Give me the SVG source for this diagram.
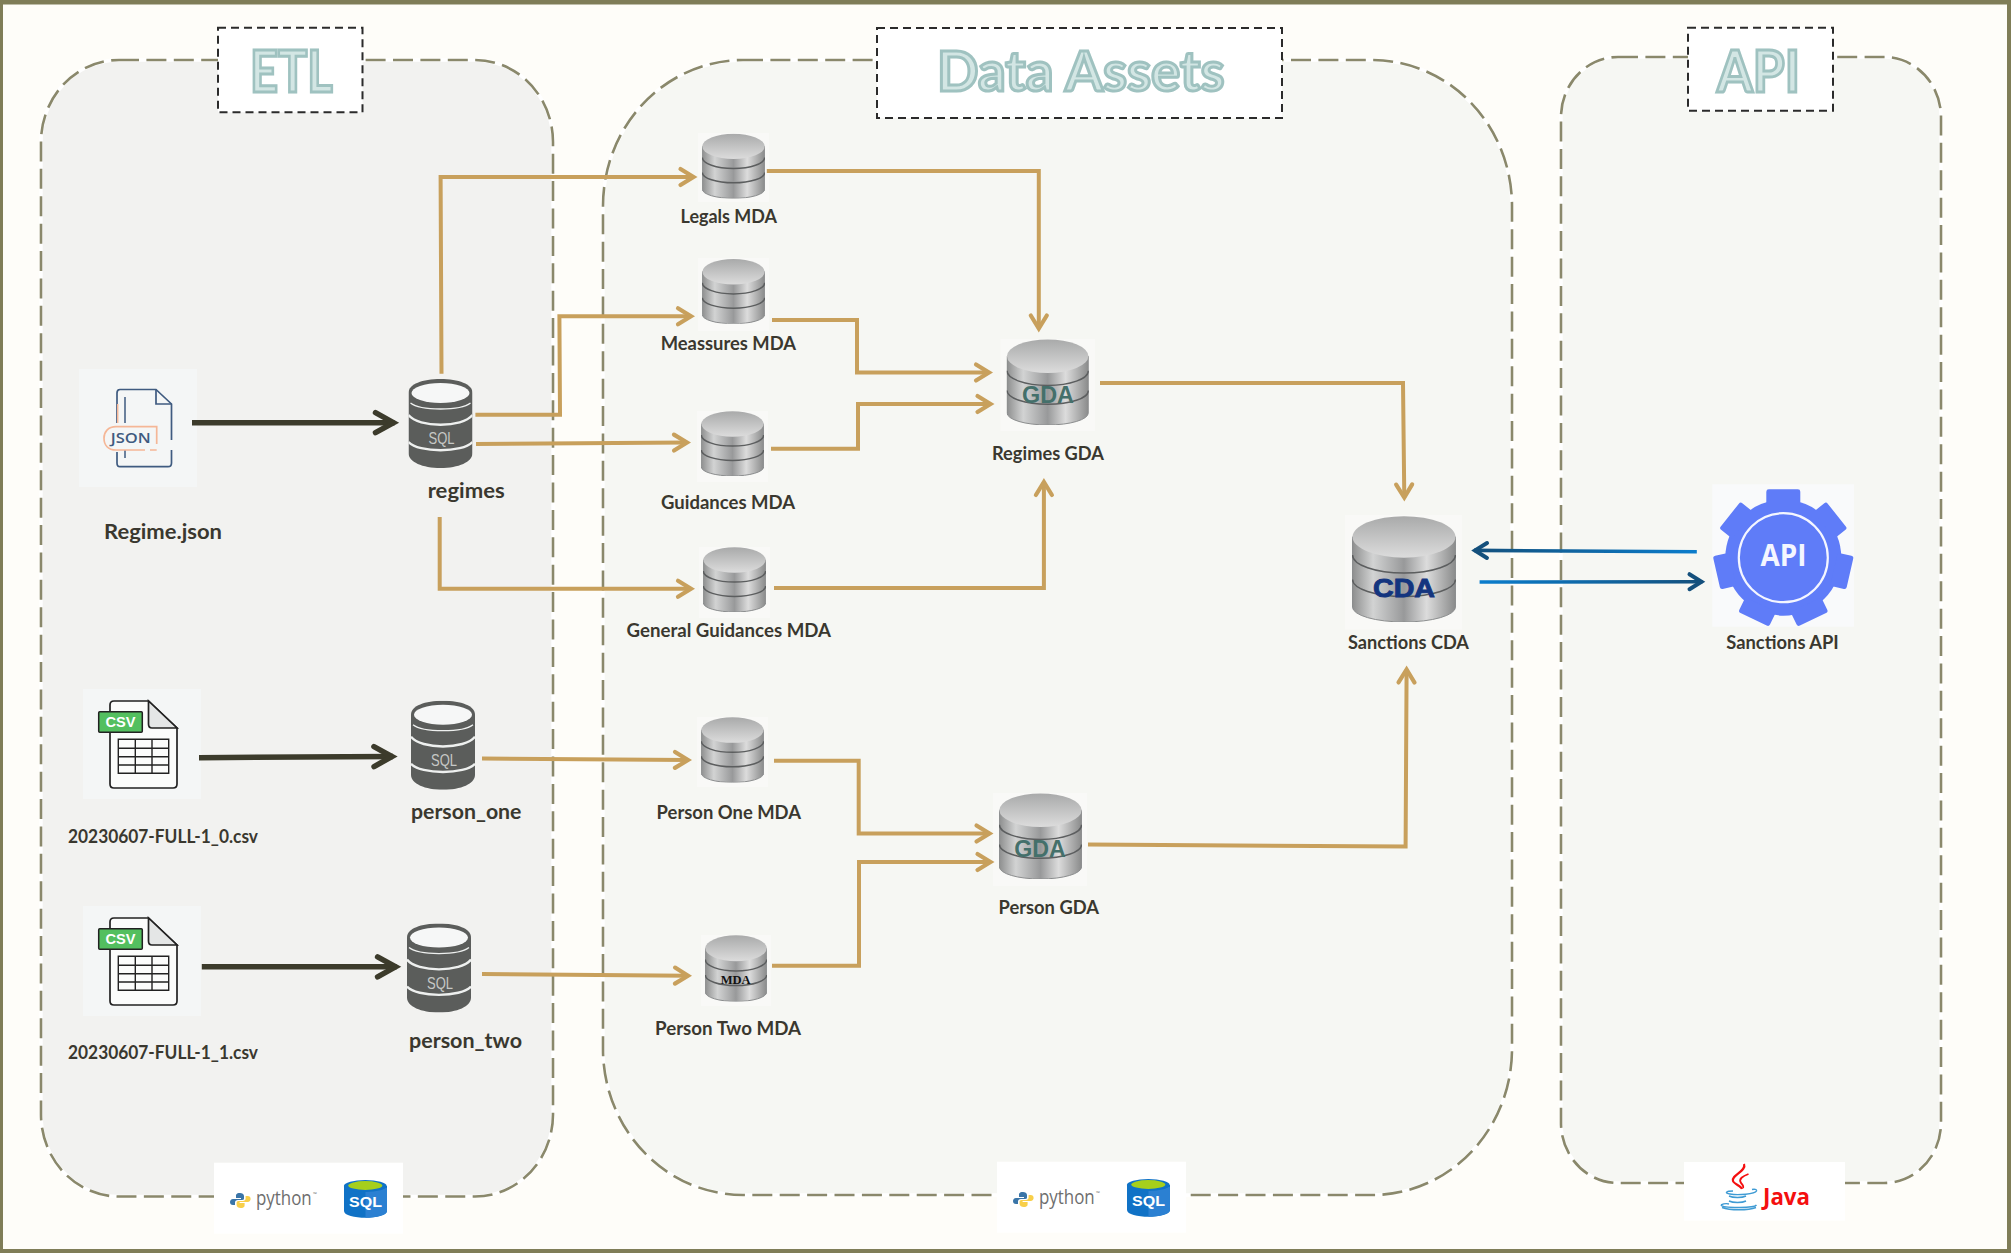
<svg xmlns="http://www.w3.org/2000/svg" xmlns:xlink="http://www.w3.org/1999/xlink" width="2011" height="1253" viewBox="0 0 2011 1253">
<style>
.halo{fill:none;stroke:#ffffff;stroke-width:3.4}
.edge{fill:none;stroke:#8a886b;stroke-width:2.6;stroke-dasharray:20 7.4}
.tbox{fill:#ffffff;stroke:#2b2b2b;stroke-width:2;stroke-dasharray:8 5}
.title{font-family:"Lato","Liberation Sans",sans-serif;font-weight:700;fill:#d3e6e4;stroke:#9fc2c0;stroke-width:3}
.lbl{font-family:"Lato","Liberation Sans",sans-serif;font-weight:700;fill:#3a382f}
.icobg{fill:#f4f6f6}
.cylbg{fill:#f9f9f7}
.tan{fill:none;stroke:#c8a05c;stroke-width:4;stroke-linejoin:miter}
.dark{fill:none;stroke:#3c3b2b;stroke-width:5.5}
.wht{fill:#ffffff}
.py{font-family:"Open Sans","Liberation Sans",sans-serif;font-weight:400;fill:#6d6d6d}
.ln{fill:none;stroke:#5c5e5f;stroke-width:1.5;vector-effect:non-scaling-stroke}
.gda{font-family:"Liberation Sans",sans-serif;font-weight:700;fill:#44706b;font-size:23px;text-anchor:middle}
</style>
<defs>
<linearGradient id="body" x1="0" x2="1" y1="0" y2="0">
<stop offset="0" stop-color="#8e8f8f"/><stop offset=".2" stop-color="#d2d3d3"/><stop offset=".5" stop-color="#98999a"/><stop offset=".72" stop-color="#dcdcdc"/><stop offset="1" stop-color="#8a8b8b"/>
</linearGradient>
<linearGradient id="lid" x1="0" x2="0" y1="0" y2="1">
<stop offset="0" stop-color="#a9aaaa"/><stop offset="1" stop-color="#dcdcdc"/>
</linearGradient>
<linearGradient id="blueL" gradientUnits="userSpaceOnUse" x1="1472" y1="0" x2="1697" y2="0">
<stop offset="0" stop-color="#14507c"/><stop offset="1" stop-color="#0b7dcc"/>
</linearGradient>
<linearGradient id="blueR" gradientUnits="userSpaceOnUse" x1="1480" y1="0" x2="1704" y2="0">
<stop offset="0" stop-color="#0b7dcc"/><stop offset="1" stop-color="#14507c"/>
</linearGradient>
<marker id="mTan" markerUnits="userSpaceOnUse" markerWidth="30" markerHeight="30" viewBox="-24 -15 30 30" refX="0" refY="0" orient="auto">
<path d="M-13 -8 L0 0 L-13 8" fill="none" stroke="#c8a05c" stroke-width="4.2" stroke-linecap="round"/>
</marker>
<marker id="mDark" markerUnits="userSpaceOnUse" markerWidth="36" markerHeight="36" viewBox="-30 -18 36 36" refX="0" refY="0" orient="auto">
<path d="M-19 -10 L-1 0 L-19 10" fill="none" stroke="#3c3b2b" stroke-width="5.5" stroke-linecap="round"/>
</marker>
<marker id="mBlue" markerUnits="userSpaceOnUse" markerWidth="30" markerHeight="30" viewBox="-24 -15 30 30" refX="0" refY="0" orient="auto">
<path d="M-13 -7.5 L-1 0 L-13 7.5" fill="none" stroke="#14507c" stroke-width="4" stroke-linecap="round"/>
</marker>
<symbol id="silver" viewBox="0 0 100 100" preserveAspectRatio="none">
<path d="M0.5 20 V86 A49.5 14 0 0 0 99.5 86 V20 Z" fill="url(#body)" stroke="#8b8d8e" stroke-width="1" vector-effect="non-scaling-stroke"/>
<ellipse cx="50" cy="20" rx="49.5" ry="19.5" fill="url(#lid)"/>
<path class="ln" d="M0.5 37 A49.5 17 0 0 0 99.5 37"/>
<path class="ln" d="M0.5 60 A49.5 16 0 0 0 99.5 60"/>
</symbol>
<symbol id="sqldb" viewBox="0 0 64 89" preserveAspectRatio="none">
<path d="M0 14 V74 C0 83 14 89 32 89 S64 83 64 74 V14 C64 5 50 0 32 0 S0 5 0 14Z" fill="#5b5d5b"/>
<ellipse cx="32" cy="14" rx="29" ry="10" fill="#f6f7f7"/>
<path d="M2 24 C12 32 52 32 62 24" fill="none" stroke="#eef0ef" stroke-width="1.3"/>
<path d="M0 36 C10 49 54 49 64 36" fill="none" stroke="#eef0ef" stroke-width="2.4"/>
<path d="M0 63 C10 74 54 74 64 63" fill="none" stroke="#eef0ef" stroke-width="2.4"/>
<text x="33" y="65" text-anchor="middle" font-family="Liberation Sans, sans-serif" font-size="17" fill="#c6c8c6" textLength="26" lengthAdjust="spacingAndGlyphs">SQL</text>
</symbol>
<symbol id="csv" viewBox="0 0 118 110" preserveAspectRatio="none">
<rect width="118" height="110" class="icobg"/>
<path d="M31 12 H65.5 L94 39 V95 Q94 99 90 99 H31 Q27 99 27 95 V16 Q27 12 31 12Z" fill="#fbfcfb" stroke="#222" stroke-width="1.7"/>
<path d="M65.5 12 V35 Q65.5 39 69 39 H94Z" fill="#e4e6e6" stroke="#222" stroke-width="1.7"/>
<rect x="15.7" y="22.7" width="43.6" height="20.6" rx="1" fill="#53bf5f" stroke="#222" stroke-width="1.5"/>
<text x="37.5" y="38" text-anchor="middle" font-family="Liberation Sans, sans-serif" font-weight="700" font-size="15.5" fill="#ffffff" textLength="30" lengthAdjust="spacingAndGlyphs">CSV</text>
<path d="M35.3 50.3 H85.7 V84.3 H35.3Z M52.3 50.3 V84.3 M69 50.3 V84.3 M35.3 59.3 H85.7 M35.3 67.7 H85.7 M35.3 76 H85.7" fill="none" stroke="#222" stroke-width="1.4"/>
</symbol>
<g id="techPy">
<rect x="214" y="1162.7" width="189" height="71" class="wht"/>
<g transform="translate(230 1193)">
<path d="M10 0C6 0 6 2 6 3V5H11V6H3C1 6 0 7.5 0 9C0 11 1 12 3 12H5V9.5C5 8 6 7 8 7H12C14 7 14 6 14 5V3C14 1 12 0 10 0Z" fill="#3a75a8"/>
<path d="M10 0C6 0 6 2 6 3V5H11V6H3C1 6 0 7.5 0 9C0 11 1 12 3 12H5V9.5C5 8 6 7 8 7H12C14 7 14 6 14 5V3C14 1 12 0 10 0Z" fill="#f8cf4a" transform="rotate(180 10.3 7.5)"/>
</g>
<text class="py" x="256" y="1205" font-size="20.5" textLength="55.7" lengthAdjust="spacingAndGlyphs">python</text>
<text class="py" x="313" y="1196" font-size="5">™</text>
<path d="M344 1186 V1211 C344 1220 387 1220 387 1211 V1186Z" fill="#1072c6"/>
<path d="M365.5 1188 H387 V1211 C387 1215 376 1217.7 365.5 1217.7Z" fill="#2b80d2"/>
<ellipse cx="365.3" cy="1186" rx="21.4" ry="6" fill="#1072c6"/>
<ellipse cx="365.3" cy="1185.5" rx="17" ry="4.4" fill="#a6cf1c"/>
<text x="365.5" y="1206.7" text-anchor="middle" font-family="Liberation Sans, sans-serif" font-weight="700" font-size="15.5" fill="#ffffff" textLength="33" lengthAdjust="spacingAndGlyphs">SQL</text>
</g>
</defs>

<rect width="2011" height="1253" fill="#7f7d58"/>
<rect x="3" y="4.5" width="2004" height="1244.5" fill="#fefdf9"/>

<g id="panel-etl">
<rect x="41" y="60" width="512" height="1136.5" rx="78" ry="82" class="halo" style="fill:#f2f2f0"/>
<rect x="41" y="60" width="512" height="1136.5" rx="78" ry="82" class="edge"/>
<rect x="218" y="27.7" width="144.5" height="84.5" class="tbox"/>
<text class="title" x="250" y="92" font-size="57" textLength="82.6" lengthAdjust="spacingAndGlyphs">ETL</text>
</g>
<g id="panel-data-assets">
<rect x="603" y="60" width="909" height="1135" rx="140" ry="146" class="halo" style="fill:#f6f7f3"/>
<rect x="603" y="60" width="909" height="1135" rx="140" ry="146" class="edge"/>
<rect x="877" y="28" width="405" height="90" class="tbox"/>
<text class="title" x="937" y="90.5" font-size="55" textLength="287.5" lengthAdjust="spacingAndGlyphs">Data Assets</text>
</g>
<g id="panel-api">
<rect x="1561" y="57" width="380" height="1126" rx="57" ry="60" class="halo" style="fill:#f6f7f3"/>
<rect x="1561" y="57" width="380" height="1126" rx="57" ry="60" class="edge"/>
<rect x="1688" y="27.7" width="145" height="83" class="tbox"/>
<text class="title" x="1717" y="91.5" font-size="57" textLength="83" lengthAdjust="spacingAndGlyphs">API</text>
</g>

<g id="node-regime-json">
<rect x="79" y="369" width="118" height="118" class="icobg"/>
<path d="M117 423 V393 Q117 389.5 120 389.5 H156 L171.5 404 V440 M171.5 450 V463 Q171.5 466.7 168 466.7 H120 Q117 466.7 117 463 V452" fill="none" stroke="#3f5b80" stroke-width="1.7"/>
<path d="M156 389.5 V404 H171.5" fill="none" stroke="#3f5b80" stroke-width="1.7"/>
<path d="M125 397 V423 M125 450 V458" fill="none" stroke="#3f5b80" stroke-width="1.5"/>
<path d="M117.7 404 V423" fill="none" stroke="#f5b797" stroke-width="1.5"/>
<path d="M156.7 444 V426.7 H116 C108 426.7 104 432 104 438 C104 445 108 450 116 450 H145 M150 450 H156.7" fill="none" stroke="#f5b797" stroke-width="1.7"/>
<text x="130.7" y="443" text-anchor="middle" font-family="Open Sans, Liberation Sans, sans-serif" font-weight="600" font-size="14.5" fill="#3f5b80" textLength="40" lengthAdjust="spacingAndGlyphs">JSON</text>
<text class="lbl" x="104" y="538.5" font-size="21" textLength="118" lengthAdjust="spacingAndGlyphs">Regime.json</text>
</g>
<g id="node-regimes">
<use xlink:href="#sqldb" href="#sqldb" x="408.5" y="379" width="64" height="89"/>
<text class="lbl" x="427.7" y="497.5" font-size="21" textLength="77" lengthAdjust="spacingAndGlyphs">regimes</text>
</g>
<g id="node-csv0">
<use xlink:href="#csv" href="#csv" x="83" y="689" width="118" height="110"/>
<text class="lbl" x="68" y="843" font-size="18.5" textLength="190" lengthAdjust="spacingAndGlyphs">20230607-FULL-1_0.csv</text>
</g>
<g id="node-csv1">
<use xlink:href="#csv" href="#csv" x="83" y="906" width="118" height="110"/>
<text class="lbl" x="68" y="1059" font-size="18.5" textLength="190" lengthAdjust="spacingAndGlyphs">20230607-FULL-1_1.csv</text>
</g>
<g id="node-person-one">
<use xlink:href="#sqldb" href="#sqldb" x="411" y="700.7" width="64" height="89"/>
<text class="lbl" x="411" y="819" font-size="21" textLength="110.5" lengthAdjust="spacingAndGlyphs">person_one</text>
</g>
<g id="node-person-two">
<use xlink:href="#sqldb" href="#sqldb" x="407" y="923.6" width="64" height="89"/>
<text class="lbl" x="409" y="1048" font-size="21" textLength="113" lengthAdjust="spacingAndGlyphs">person_two</text>
</g>

<g id="node-legals-mda">
<rect x="698" y="133" width="71" height="69" class="cylbg"/>
<use xlink:href="#silver" href="#silver" x="702" y="133.4" width="63" height="65"/>
<text class="lbl" x="680.6" y="223" font-size="18" textLength="96.4" lengthAdjust="spacingAndGlyphs">Legals MDA</text>
</g>
<g id="node-meassures-mda">
<rect x="698" y="258" width="71" height="73" class="cylbg"/>
<use xlink:href="#silver" href="#silver" x="702" y="258.8" width="63" height="65"/>
<text class="lbl" x="660.7" y="350" font-size="18" textLength="135.3" lengthAdjust="spacingAndGlyphs">Meassures MDA</text>
</g>
<g id="node-guidances-mda">
<rect x="697" y="411" width="71" height="71" class="cylbg"/>
<use xlink:href="#silver" href="#silver" x="701" y="411" width="63" height="65"/>
<text class="lbl" x="661" y="509" font-size="18" textLength="134" lengthAdjust="spacingAndGlyphs">Guidances MDA</text>
</g>
<g id="node-general-guidances-mda">
<rect x="699" y="547" width="71" height="71" class="cylbg"/>
<use xlink:href="#silver" href="#silver" x="703" y="547" width="63" height="65"/>
<text class="lbl" x="626.5" y="637" font-size="18" textLength="204.5" lengthAdjust="spacingAndGlyphs">General Guidances MDA</text>
</g>
<g id="node-person-one-mda">
<rect x="697" y="717" width="71" height="70" class="cylbg"/>
<use xlink:href="#silver" href="#silver" x="701" y="717" width="63" height="65.5"/>
<text class="lbl" x="656.6" y="818.5" font-size="18.5" textLength="144.4" lengthAdjust="spacingAndGlyphs">Person One MDA</text>
</g>
<g id="node-person-two-mda">
<rect x="701" y="935" width="70" height="71" class="cylbg"/>
<use xlink:href="#silver" href="#silver" x="705" y="935" width="62" height="66.5"/>
<text x="735.7" y="984" text-anchor="middle" font-family="Liberation Serif, serif" font-weight="700" font-size="12.5" fill="#111" textLength="30" lengthAdjust="spacingAndGlyphs">MDA</text>
<text class="lbl" x="655" y="1034.5" font-size="18.5" textLength="146" lengthAdjust="spacingAndGlyphs">Person Two MDA</text>
</g>
<g id="node-regimes-gda">
<rect x="1000.5" y="339" width="94.5" height="92" class="cylbg"/>
<use xlink:href="#silver" href="#silver" x="1006.6" y="339" width="82.2" height="86"/>
<text class="gda" x="1048" y="403" textLength="52" lengthAdjust="spacingAndGlyphs">GDA</text>
<text class="lbl" x="992" y="459.6" font-size="18" textLength="112" lengthAdjust="spacingAndGlyphs">Regimes GDA</text>
</g>
<g id="node-person-gda">
<rect x="993" y="793" width="94" height="93" class="cylbg"/>
<use xlink:href="#silver" href="#silver" x="999" y="793" width="83" height="86"/>
<text class="gda" x="1040" y="857" textLength="51.5" lengthAdjust="spacingAndGlyphs">GDA</text>
<text class="lbl" x="998.5" y="914" font-size="18.5" textLength="100.5" lengthAdjust="spacingAndGlyphs">Person GDA</text>
</g>
<g id="node-sanctions-cda">
<rect x="1345" y="515" width="117" height="114.5" class="cylbg"/>
<use xlink:href="#silver" href="#silver" x="1352" y="515.6" width="104" height="106.4"/>
<text x="1404" y="597" text-anchor="middle" font-family="Liberation Sans, sans-serif" font-weight="700" font-size="25" fill="#14357f" stroke="#14357f" stroke-width=".9" textLength="62" lengthAdjust="spacingAndGlyphs">CDA</text>
<text class="lbl" x="1348" y="649" font-size="18" textLength="121" lengthAdjust="spacingAndGlyphs">Sanctions CDA</text>
</g>
<g id="node-sanctions-api">
<rect x="1712.3" y="484.3" width="141.7" height="142.4" fill="#f9fafb"/>
<g transform="translate(1783.3 557.7)" fill="#5f7cf8">
<circle r="58"/>
<path d="M-17 -52 V-66 Q-17 -68.4 -14.5 -68.4 H14.5 Q17 -68.4 17 -66 V-52Z"/>
<path d="M-17 -52 V-66 Q-17 -68.4 -14.5 -68.4 H14.5 Q17 -68.4 17 -66 V-52Z" transform="rotate(51.43)"/>
<path d="M-17 -52 V-66 Q-17 -68.4 -14.5 -68.4 H14.5 Q17 -68.4 17 -66 V-52Z" transform="rotate(102.86)"/>
<path d="M-17 -52 V-66 Q-17 -68.4 -14.5 -68.4 H14.5 Q17 -68.4 17 -66 V-52Z" transform="rotate(154.29)"/>
<path d="M-17 -52 V-66 Q-17 -68.4 -14.5 -68.4 H14.5 Q17 -68.4 17 -66 V-52Z" transform="rotate(205.71)"/>
<path d="M-17 -52 V-66 Q-17 -68.4 -14.5 -68.4 H14.5 Q17 -68.4 17 -66 V-52Z" transform="rotate(257.14)"/>
<path d="M-17 -52 V-66 Q-17 -68.4 -14.5 -68.4 H14.5 Q17 -68.4 17 -66 V-52Z" transform="rotate(308.57)"/>
<circle r="44.5" fill="none" stroke="#f4f6ff" stroke-width="2.2"/>
</g>
<text x="1783.5" y="566" text-anchor="middle" font-family="Open Sans, Liberation Sans, sans-serif" font-weight="700" font-size="30" fill="#f4f6ff" textLength="46" lengthAdjust="spacingAndGlyphs">API</text>
<text class="lbl" x="1726.3" y="649" font-size="18" textLength="112.5" lengthAdjust="spacingAndGlyphs">Sanctions API</text>
</g>

<g id="badge-etl"><use xlink:href="#techPy" href="#techPy"/></g>
<g id="badge-data-assets"><use xlink:href="#techPy" href="#techPy" x="783" y="-1"/></g>
<g id="badge-api">
<rect x="1684" y="1162" width="161" height="58.7" class="wht"/>
<path d="M1744 1164 C1747 1171 1731 1175 1733 1181 C1734 1184 1741 1186 1742 1189" fill="none" stroke="#f40f0f" stroke-width="2.2"/>
<path d="M1748.5 1174 C1743 1176 1738 1179 1741 1183 C1743 1185 1744 1186 1743 1188" fill="none" stroke="#f40f0f" stroke-width="1.8"/>
<path d="M1733 1191 C1726 1191 1724 1193 1730 1194 C1738 1195.5 1755 1194 1756.5 1191 C1757 1189 1754 1189 1752 1189.5 M1729 1196 C1733 1198 1742 1198 1746 1196 M1729 1201 C1733 1203 1742 1203 1746 1201 M1721 1205 C1722 1208 1754 1208.5 1756.5 1205 M1721 1205 C1724 1203.5 1727 1203.5 1729 1204 M1722 1207.5 C1730 1210.5 1748 1210.5 1756 1207.5" fill="none" stroke="#3f9bd4" stroke-width="1.4"/>
<text x="1763" y="1205" font-family="Open Sans, Liberation Sans, sans-serif" font-weight="700" font-size="23" fill="#f40f0f" textLength="47" lengthAdjust="spacingAndGlyphs">Java</text>
</g>

<g id="connectors">
<path class="dark" d="M192 422.7 H394.5" marker-end="url(#mDark)"/>
<path class="dark" d="M199 757.7 L393 756.5" marker-end="url(#mDark)"/>
<path class="dark" d="M201.8 966.8 H396.6" marker-end="url(#mDark)"/>
<path class="tan" d="M441.5 373.7 L440.6 177 H693.5" marker-end="url(#mTan)"/>
<path class="tan" d="M475.4 414.8 H560 L559.4 316.3 H691" marker-end="url(#mTan)"/>
<path class="tan" d="M476 444 L687 442.5" marker-end="url(#mTan)"/>
<path class="tan" d="M439.7 517 V588.8 H691" marker-end="url(#mTan)"/>
<path class="tan" d="M482 758.5 L688 760" marker-end="url(#mTan)"/>
<path class="tan" d="M482 974 L688 975.7" marker-end="url(#mTan)"/>
<path class="tan" d="M766.8 170.9 H1038.8 V328.5" marker-end="url(#mTan)"/>
<path class="tan" d="M772 320 H857 V372.5 H989" marker-end="url(#mTan)"/>
<path class="tan" d="M771 448.7 H858 V404 H990.5" marker-end="url(#mTan)"/>
<path class="tan" d="M774 588 H1043.9 V482" marker-end="url(#mTan)"/>
<path class="tan" d="M1100 383 H1403 L1404.3 497.5" marker-end="url(#mTan)"/>
<path class="tan" d="M774 760.8 H858.7 V833.5 H989.5" marker-end="url(#mTan)"/>
<path class="tan" d="M772 965.8 H859 V862 H990.5" marker-end="url(#mTan)"/>
<path class="tan" d="M1088 844.5 L1405.6 846.5 L1406.6 669.5" marker-end="url(#mTan)"/>
<path d="M1696.8 551.8 L1474 550.4" fill="none" stroke="url(#blueL)" stroke-width="3.6" marker-end="url(#mBlue)"/>
<path d="M1479.6 582 L1702.5 581.7" fill="none" stroke="url(#blueR)" stroke-width="3.6" marker-end="url(#mBlue)"/>
</g>
</svg>
